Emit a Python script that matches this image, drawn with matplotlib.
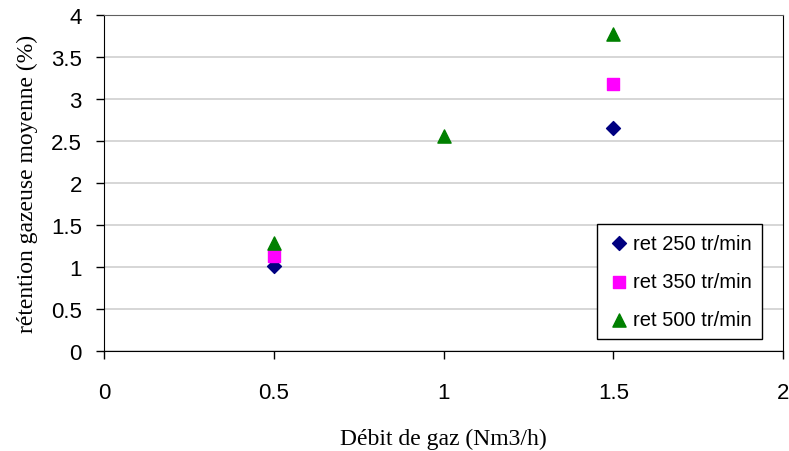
import matplotlib.pyplot as plt

# data
x_250 = [0.5, 1.5]
y_250 = [1.01, 2.65]
x_350 = [0.5, 1.5]
y_350 = [1.13, 3.18]
x_500 = [0.5, 1.0, 1.5]
y_500 = [1.28, 2.56, 3.77]
x_ticks = [0, 0.5, 1, 1.5, 2]
y_ticks = [0, 0.5, 1, 1.5, 2, 2.5, 3, 3.5, 4]
labels = ["ret 250 tr/min", "ret 350 tr/min", "ret 500 tr/min"]

fig = plt.figure(figsize=(7.89, 4.52), dpi=100)
ax = fig.add_axes([104/789, 1 - 352/452, (783-104)/789, (352-16)/452])

ax.scatter(x_250, y_250, marker="D", s=50, color="#000080", label=labels[0], zorder=3)
ax.scatter(x_350, y_350, marker="s", s=72, color="#ff00ff", label=labels[1], zorder=3)
ax.scatter(x_500, y_500, marker="^", s=90, color="#008000", label=labels[2], zorder=3)

ax.set_xlim(0, 2)
ax.set_ylim(0, 4)
ax.set_xticks(x_ticks)
ax.set_xticklabels(["0", "0.5", "1", "1.5", "2"])
ax.set_yticks(y_ticks)
ax.set_yticklabels(["0", "0.5", "1", "1.5", "2", "2.5", "3", "3.5", "4"])
ax.yaxis.grid(True, color="#d0d0d0", linewidth=1.2)
ax.set_axisbelow(True)

for side in ["left", "bottom", "right"]:
    ax.spines[side].set_color("black")
ax.spines["top"].set_color("#606060")

ax.tick_params(direction="out", length=6, width=1, labelsize=16, pad=10,
               labelfontfamily="Liberation Sans")
ax.tick_params(axis="x", pad=16)

ax.set_xlabel("Débit de gaz (Nm3/h)", family="Liberation Serif", fontsize=17, labelpad=18)
ax.set_ylabel("rétention gazeuse moyenne (%)", family="Liberation Serif", fontsize=17, labelpad=9)

leg = ax.legend(loc="lower right", bbox_to_anchor=(762/789, 1 - 340/452),
                bbox_transform=fig.transFigure, fancybox=False, edgecolor="black",
                framealpha=1, prop={"family": "Liberation Sans", "size": 14.5},
                handletextpad=0.1, handlelength=1.2, labelspacing=0.95, borderpad=0.5,
                borderaxespad=0)
leg.get_frame().set_linewidth(1)

fig.savefig("out.png", dpi=100)
